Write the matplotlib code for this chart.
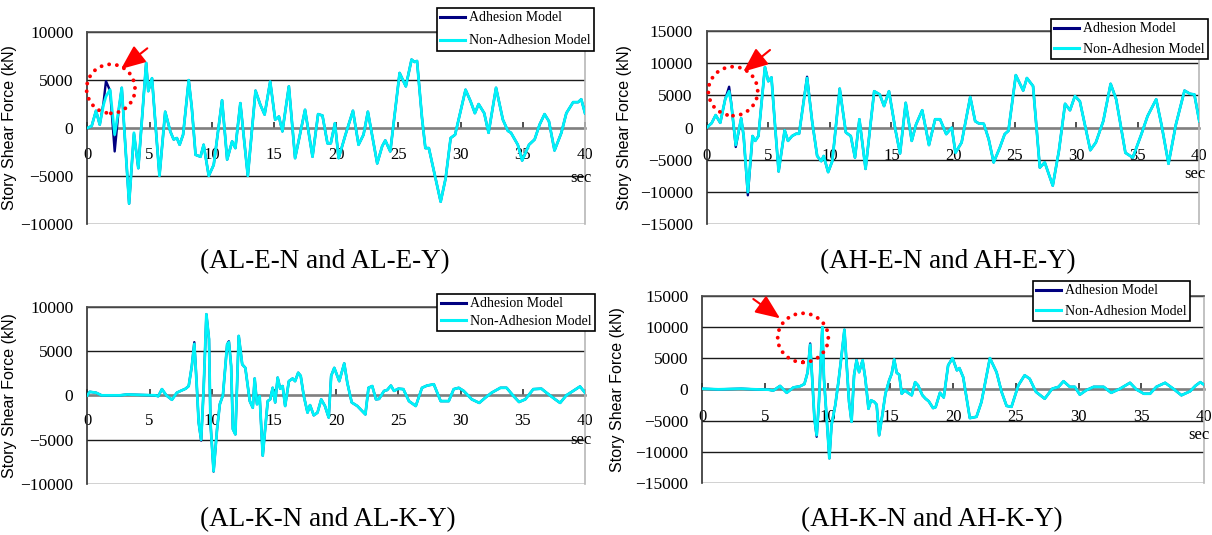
import matplotlib
matplotlib.use("Agg")
import matplotlib.pyplot as plt
from matplotlib.patches import Ellipse, FancyArrowPatch

# ---------------- data ----------------
# (AL-E-N and AL-E-Y)
al_e_t = [0, 0.35, 0.7, 1.0, 1.3, 1.5, 1.83, 2.2, 2.5, 2.77, 3.04, 3.36, 3.75, 4.1, 4.73, 4.9, 5.2,
          5.46, 5.8, 6.26, 6.67, 6.94, 7.2, 7.42, 7.7, 8.15, 8.4, 8.7, 9.1, 9.35, 9.76, 10.16, 10.83,
          11.24, 11.64, 11.9, 12.3, 12.9, 13.52, 13.9, 14.25, 14.7, 15.1, 15.4, 15.68, 16.2, 16.7,
          17.5, 18.1, 18.55, 18.9, 19.3, 19.57, 19.9, 20.2, 20.75, 21.35, 21.8, 22.2, 22.55, 23.3,
          23.7, 23.95, 24.35, 25.1, 25.6, 26.06, 26.3, 26.5, 26.9, 27.17, 27.45, 28.4, 28.8, 29.2,
          29.56, 30.4, 30.8, 31.15, 31.45, 31.9, 32.25, 32.85, 33.4, 33.8, 34.05, 34.6, 34.95, 35.5,
          35.95, 36.35, 36.75, 37.1, 37.55, 38.1, 38.5, 39.05, 39.45, 39.7, 40.0]
al_e_non = [0, 200, 1800, 350, 2400, 3300, 4000, -700, 1750, 4200, -1500, -7900, -500, -4200, 6800,
            3850, 5200, 700, -5000, 1700, -350, -1200, -1050, -1750, -700, 5000, 2100, -2800, -3000,
            -1750, -5000, -3850, 2900, -3300, -1400, -2100, 2600, -5000, 3900, 2450, 1400, 4850, 870,
            1200, -350, 4350, -3150, 1900, -3000, 1450, 1300, -1600, -1600, 500, -3150, -700, 1800,
            -1750, -700, 1700, -3700, -1900, -1300, -2450, 5750, 4350, 7150, 6900, 7000, 1050, -2100,
            -2100, -7700, -5250, -1050, -700, 4000, 2800, 1550, 2500, 1550, -500, 4200, 870, -300,
            -500, -1750, -3400, -1750, -1200, 350, 1450, 700, -2350, -500, 1550, 2700, 2700, 3000, 1550]
al_e_adh = [0, 200, 1800, 350, 2600, 4900, 3900, -2450, 1600, 4200, -1500, -7900, -600, -4200, 6800,
            3850, 5200, 700, -5000, 1700, -350, -1200, -1050, -1750, -700, 5000, 2100, -2800, -3000,
            -1750, -5000, -3850, 2900, -3300, -1400, -2100, 2600, -5000, 3900, 2450, 1400, 4850, 870,
            1200, -350, 4350, -3150, 1900, -3000, 1450, 1300, -1600, -1600, 500, -3150, -700, 1800,
            -1750, -700, 1700, -3700, -1900, -1300, -2450, 5750, 4350, 7150, 6900, 7000, 1050, -2100,
            -2100, -7700, -5250, -1050, -700, 4000, 2800, 1550, 2500, 1550, -500, 4200, 870, -300,
            -500, -1750, -3400, -1750, -1200, 350, 1450, 700, -2350, -500, 1550, 2700, 2700, 3000, 1550]

# (AH-E-N and AH-E-Y)
ah_e_t = [0, 0.4, 0.73, 1.1, 1.5, 1.82, 2.0, 2.36, 2.8, 3.0, 3.34, 3.72, 3.94, 4.2, 4.73, 5.0, 5.26,
          5.5, 5.84, 6.33, 6.6, 6.93, 7.26, 7.5, 8.15, 8.56, 8.97, 9.3, 9.5, 9.86, 10.2, 10.8, 11.3,
          11.7, 12.04, 12.4, 12.9, 13.6, 14.05, 14.4, 14.8, 15.35, 15.7, 16.16, 16.65, 17.0, 17.5,
          18.05, 18.55, 18.95, 19.45, 19.9, 20.2, 20.7, 21.4, 21.8, 22.1, 22.5, 22.9, 23.3, 23.8,
          24.2, 24.5, 25.1, 25.7, 26.0, 26.5, 27.05, 27.45, 28.1, 28.6, 29.1, 29.5, 29.9, 30.3,
          31.15, 31.6, 32.2, 32.8, 33.25, 34.0, 34.6, 35.3, 35.8, 36.5, 36.95, 37.5, 38.1, 38.8,
          39.25, 39.6, 40.0]
ah_e_non = [0, 700, 1950, 750, 4400, 5650, 3600, -2700, 1450, -1300, -10000, -1300, -2050, -1300,
            9400, 7200, 7800, 1550, -6800, -400, -2050, -1300, -950, -950, 7700, 1000, -4400, -5200,
            -4400, -6900, -5200, 6050, -750, -1300, -4650, 1300, -6400, 5650, 5150, 3350, 5650, -600,
            -4000, 3850, -2050, 500, 2700, -2700, 1300, 1300, -1000, 0, -3900, -2300, 4750, 1000, 650,
            600, -1800, -5400, -3100, -1000, -500, 8150, 5750, 7700, 6450, -6200, -5400, -9000, -3600,
            3700, 2700, 4900, 4100, -3500, -2300, 1000, 6800, 4400, -3900, -4650, -1000, 1800, 4400,
            250, -5600, 500, 5750, 5250, 5150, 1000]
ah_e_adh = [0, 700, 1950, 750, 4400, 6350, 3700, -3000, 1450, -1300, -10500, -1300, -2050, -1300,
            9400, 7200, 7800, 1550, -6800, -400, -2050, -1300, -950, -950, 7900, 1000, -4400, -5200,
            -4400, -6900, -5200, 6050, -750, -1300, -4650, 1300, -6400, 5650, 5150, 3350, 5650, -600,
            -4000, 3850, -2050, 500, 2700, -2700, 1300, 1300, -1000, 0, -3900, -2300, 4750, 1000, 650,
            600, -1800, -5400, -3100, -1000, -500, 8150, 5750, 7700, 6450, -6200, -5400, -9000, -3600,
            3700, 2700, 4900, 4100, -3500, -2300, 1000, 6800, 4400, -3900, -4650, -1000, 1800, 4400,
            250, -5600, 500, 5750, 5250, 5150, 1000]

# (AL-K-N and AL-K-Y)
al_k_t = [0, 0.2, 0.7, 1.15, 2.6, 3.2, 4.25, 5.45, 5.7, 6.0, 6.35, 6.8, 7.2, 7.5, 7.9, 8.15, 8.4,
          8.6, 8.8, 8.95, 9.15, 9.35, 9.57, 9.78, 9.9, 10.15, 10.43, 10.65, 10.9, 11.24, 11.38,
          11.56, 11.7, 11.9, 12.17, 12.45, 12.7, 13.06, 13.3, 13.45, 13.64, 13.85, 14.1, 14.5,
          14.7, 14.9, 15.1, 15.3, 15.5, 15.7, 15.9, 16.2, 16.5, 16.7, 16.95, 17.15, 17.4, 17.7,
          17.9, 18.2, 18.5, 18.8, 19.1, 19.4, 19.6, 19.85, 20.25, 20.65, 20.9, 21.25, 21.7, 22.35,
          22.6, 22.9, 23.2, 23.45, 23.85, 24.1, 24.4, 24.65, 25.0, 25.4, 25.85, 26.4, 26.9, 27.3,
          27.85, 28.4, 29.05, 29.45, 29.85, 30.25, 30.9, 31.5, 32.0, 32.5, 33.2, 33.7, 34.25, 34.7,
          35.2, 35.85, 36.5, 36.9, 37.6, 38.0, 38.5, 39.05, 39.6, 40.0]
al_k_non = [0, 400, 300, 0, 0, 100, 50, 0, -100, 700, 0, -500, 300, 500, 750, 1050, 3300, 5800,
            1050, -3050, -5000, 700, 9150, 6350, -3100, -8550, -3800, -1000, 0, 5750, 6000, 3300,
            -3800, -4400, 6700, 3500, 3100, -650, -1400, 1900, -1000, -75, -6800, -650, -450, 850,
            -800, 2000, 750, 1050, -1200, 1600, 1900, 1600, 2550, 2200, -75, -1950, -1100, -2250,
            -1950, -450, -1200, -2500, 2200, 3100, 1600, 3600, 1400, -800, -1200, -2150, 850, 1050,
            -450, -400, 500, 600, 1100, 500, 750, 700, -650, -1200, 850, 1100, 1250, -650, -650, 700,
            850, 500, -450, -850, -250, 300, 850, 850, -75, -750, -450, 700, 750, 300, -450, -850, 0,
            500, 1000, 300]
al_k_adh = [0, 400, 300, 0, 0, 100, 50, 0, -100, 700, 0, -500, 300, 500, 750, 1050, 3300, 6000,
            1050, -3050, -5100, 700, 9150, 6350, -3100, -8600, -3800, -1000, 0, 5750, 6100, 3300,
            -3800, -4400, 6700, 3500, 3100, -650, -1400, 1900, -1000, -75, -6800, -650, -450, 850,
            -800, 2000, 750, 1050, -1200, 1600, 1900, 1600, 2550, 2200, -75, -1950, -1100, -2250,
            -1950, -450, -1200, -2500, 2200, 3100, 1600, 3600, 1400, -800, -1200, -2150, 850, 1050,
            -450, -400, 500, 600, 1100, 500, 750, 700, -650, -1200, 850, 1100, 1250, -650, -650, 700,
            850, 500, -450, -850, -250, 300, 850, 850, -75, -750, -450, 700, 750, 300, -450, -850, 0,
            500, 1000, 300]

# (AH-K-N and AH-K-Y)
ah_k_t = [0, 1.28, 3.1, 4.2, 5.27, 5.66, 6.2, 6.73, 7.26, 7.8, 8.14, 8.4, 8.6, 8.78, 8.94, 9.12,
          9.3, 9.47, 9.57, 9.7, 9.92, 10.13, 10.3, 10.6, 10.85, 11.1, 11.33, 11.5, 11.7, 11.9, 12.1,
          12.3, 12.5, 12.78, 13.0, 13.25, 13.45, 13.7, 13.9, 14.1, 14.35, 14.6, 14.9, 15.1, 15.3,
          15.5, 15.7, 15.9, 16.15, 16.4, 16.7, 16.97, 17.2, 17.55, 17.8, 18.05, 18.4, 18.6, 18.95,
          19.25, 19.6, 19.95, 20.3, 20.5, 20.8, 21.33, 21.86, 22.26, 22.93, 23.46, 23.86, 24.26,
          24.65, 25.2, 25.7, 26.1, 26.6, 27.3, 27.9, 28.4, 28.8, 29.3, 29.7, 30.1, 30.6, 31.2, 32.0,
          32.6, 33.3, 34.1, 34.6, 35.2, 35.7, 36.2, 36.9, 37.55, 38.2, 38.9, 39.3, 39.7, 40.0]
ah_k_non = [100, 0, 100, 0, -50, -200, 550, -550, 300, 500, 850, 2750, 7150, 1150, -4700, -7350,
            -2000, 5950, 9950, 1700, -4700, -11050, -5750, -2550, 1150, 5400, 9550, 4250, -2000,
            -5200, 2250, 4650, 2750, 4650, 1700, -3100, -1750, -2000, -2450, -7350, -4150, -700,
            1450, 2500, 4800, 2650, 2350, -700, -150, -550, -950, 1150, 650, -950, -1500, -1900,
            -3000, -2850, -550, -1300, 3850, 5000, 3050, 3400, 1950, -4600, -4400, -2000, 5000, 2750,
            -400, -2650, -2800, 650, 2250, 1700, -400, -1500, 100, 400, 1300, 400, 400, -850, -150,
            400, 400, -550, 100, 1050, 0, -700, -700, 400, 1050, 100, -950, -300, 550, 1150, 750]
ah_k_adh = [100, 0, 100, 0, -50, -200, 550, -550, 300, 500, 850, 2750, 7350, 1150, -4700, -7600,
            -2000, 5950, 9950, 1700, -4700, -11050, -5750, -2550, 1150, 5400, 9550, 4300, -2000,
            -5200, 2250, 4700, 2750, 4650, 1700, -3100, -1750, -2000, -2450, -7350, -4150, -700,
            1450, 2500, 4800, 2650, 2350, -700, -150, -550, -950, 1150, 650, -950, -1500, -1900,
            -3000, -2850, -550, -1300, 3850, 5000, 3050, 3400, 1950, -4600, -4400, -2000, 5000, 2750,
            -400, -2650, -2800, 650, 2250, 1700, -400, -1500, 100, 400, 1300, 400, 400, -850, -150,
            400, 400, -550, 100, 1050, 0, -700, -700, 400, 1050, 100, -950, -300, 550, 1150, 750]

series_labels = ["Adhesion Model", "Non-Adhesion Model"]
captions = ["(AL-E-N and AL-E-Y)", "(AH-E-N and AH-E-Y)", "(AL-K-N and AL-K-Y)", "(AH-K-N and AH-K-Y)"]
x_ticks = [0, 5, 10, 15, 20, 25, 30, 35, 40]
y_ticks_10k = [-10000, -5000, 0, 5000, 10000]
y_ticks_15k = [-15000, -10000, -5000, 0, 5000, 10000, 15000]
y_label = "Story Shear Force (kN)"
x_unit = "sec"

# ---------------- figure ----------------
W, H = 1212, 535
fig = plt.figure(figsize=(W / 100, H / 100), dpi=100)
fig.patch.set_facecolor("white")

SERIF = "Liberation Serif"
SANS = "Liberation Sans"
NAVY = "#000080"
CYAN = "#00F2F8"
RED = "#FF0000"


def fx(px):
    return px / W


def fy(py):
    return 1 - py / H


panels = [
    dict(t=al_e_t, adh=al_e_adh, non=al_e_non, box=(87.3, 32.3, 585, 223.7), yt=y_ticks_10k,
         leg=(436.7, 8), ls=0.72, ylab_x=17, xpad=14.0, sec=(-4, -50), cap=(325, 262)),
    dict(t=ah_e_t, adh=ah_e_adh, non=ah_e_non, box=(706.7, 31, 1199.3, 224.3), yt=y_ticks_15k,
         leg=(1050.7, 19), ls=0.52, ylab_x=632, xpad=14.5, sec=(-4, -46), cap=(948, 262)),
    dict(t=al_k_t, adh=al_k_adh, non=al_k_non, box=(87.3, 306.7, 585, 484), yt=y_ticks_10k,
         leg=(437.3, 294), ls=0.32, ylab_x=17, xpad=12.5, sec=(-4, -45), cap=(328, 520)),
    dict(t=ah_k_t, adh=ah_k_adh, non=ah_k_non, box=(702.3, 295.7, 1204, 483), yt=y_ticks_15k,
         leg=(1032.7, 281), ls=0.52, ylab_x=625, xpad=14.0, sec=(-5, -46), cap=(932, 520)),
]

for i, p in enumerate(panels):
    l, t, r, b = p["box"]
    ax = fig.add_axes([fx(l), fy(b), fx(r - l), (b - t) / H])
    ax.set_facecolor("white")
    ax.plot(p["t"], p["adh"], color=NAVY, lw=1.7, label=series_labels[0], zorder=3)
    ax.plot(p["t"], p["non"], color=CYAN, lw=2.0, label=series_labels[1], zorder=4)
    ylim = max(p["yt"])
    ax.set_xlim(0, 40)
    ax.set_ylim(-ylim, ylim)
    ax.set_yticks(p["yt"])
    ax.set_xticks(x_ticks)
    ax.yaxis.grid(True, color="#1a1a1a", lw=1.0, zorder=1)
    ax.set_axisbelow(True)

    ax.spines["bottom"].set_position(("data", 0))
    ax.spines["bottom"].set_color("#808080")
    ax.spines["bottom"].set_linewidth(1.8)
    ax.spines["bottom"].set_zorder(2)
    ax.spines["left"].set_color("#303030")
    ax.spines["left"].set_linewidth(1.2)
    ax.spines["top"].set_color("#505050")
    ax.spines["top"].set_linewidth(1.2)
    ax.spines["right"].set_color("#b8b8b8")
    ax.spines["right"].set_linewidth(1.2)

    ax.tick_params(axis="x", direction="in", length=4, width=1.2, color="#303030",
                   pad=p["xpad"], labelsize=12)
    ax.tick_params(axis="y", length=0, pad=10, labelsize=12.5)
    for lab in ax.get_xticklabels() + ax.get_yticklabels():
        lab.set_family(SERIF)

    ax.set_ylabel(y_label, family=SANS, fontsize=11.5)
    ax.yaxis.set_label_coords(fx(p["ylab_x"]), fy((t + b) / 2), transform=fig.transFigure)

    ax.annotate(x_unit, xy=(40, 0), xycoords="data", xytext=p["sec"], textcoords="offset pixels",
                ha="center", va="center", family=SERIF, fontsize=12, annotation_clip=False)

    lx, ly = p["leg"]
    leg = ax.legend(loc="upper left", bbox_to_anchor=(fx(lx), fy(ly)), bbox_transform=fig.transFigure,
                    borderaxespad=0, frameon=True, fancybox=False, framealpha=1, edgecolor="black",
                    prop=dict(family=SERIF, size=10), handlelength=1.8, handletextpad=0.3,
                    borderpad=0.25, labelspacing=p["ls"])
    leg.get_frame().set_linewidth(1.2)
    leg.set_zorder(10)
    for h in leg.get_lines():
        h.set_linewidth(2.2)

    cx, cy = p["cap"]
    fig.text(fx(cx), fy(cy), captions[i], ha="center", va="center",
             family=SERIF, fontsize=19.5)

# red dotted circles and arrows (annotations)
circles = [(110.8, 88.8, 24.2, 24.5), (733, 91.2, 24.7, 24.5), (803, 337.8, 25.3, 24.5)]
arrows = [((147.3, 48.3), (121, 69)), ((770, 50), (743.3, 71.7)), ((753.3, 299), (780, 318.3))]
for (cx, cy, rx, ry) in circles:
    e = Ellipse((fx(cx), fy(cy)), 2 * rx / W, 2 * ry / H, transform=fig.transFigure,
                fill=False, edgecolor=RED, lw=2.8, linestyle=(0, (0.01, 2.0)), zorder=20)
    e.set_capstyle("round")
    fig.add_artist(e)
for (a, bpt) in arrows:
    arr = FancyArrowPatch((fx(a[0]), fy(a[1])), (fx(bpt[0]), fy(bpt[1])), transform=fig.transFigure,
                          arrowstyle="-|>,head_length=1.0,head_width=0.42", mutation_scale=15,
                          color=RED, lw=1.5, shrinkA=0, shrinkB=0, zorder=20)
    fig.add_artist(arr)

fig.savefig("out.png", dpi=100, facecolor="white")
